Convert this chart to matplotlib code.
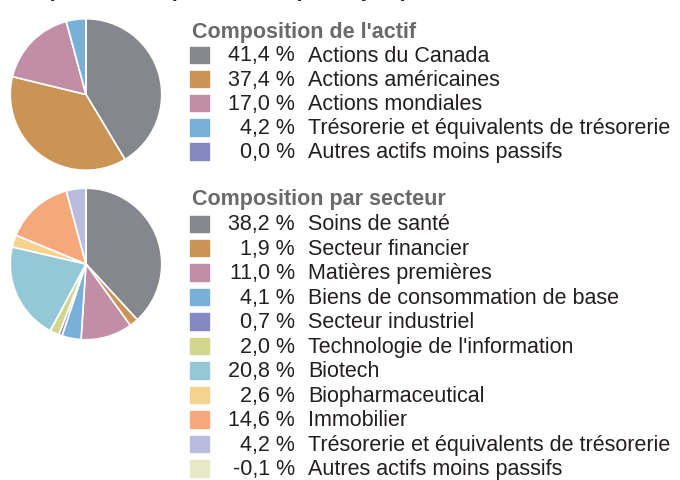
import matplotlib
matplotlib.use("Agg")
import matplotlib.pyplot as plt

plt.rcParams['font.family'] = ['Liberation Sans', 'DejaVu Sans']

# asset mix
actif_titre = "Composition de l'actif"
actif_labels = ["Actions du Canada", "Actions américaines", "Actions mondiales",
                "Trésorerie et équivalents de trésorerie", "Autres actifs moins passifs"]
actif_vals = [41.4, 37.4, 17.0, 4.2, 0.0]
actif_cols = ["#86878c", "#c99456", "#c18ea5", "#79b0d8", "#8489c3"]

# sector mix
secteur_titre = "Composition par secteur"
secteur_labels = ["Soins de santé", "Secteur financier", "Matières premières",
                  "Biens de consommation de base", "Secteur industriel",
                  "Technologie de l'information", "Biotech", "Biopharmaceutical",
                  "Immobilier", "Trésorerie et équivalents de trésorerie",
                  "Autres actifs moins passifs"]
secteur_vals = [38.2, 1.9, 11.0, 4.1, 0.7, 2.0, 20.8, 2.6, 14.6, 4.2, -0.1]
secteur_cols = ["#86878c", "#c99456", "#c18ea5", "#79b0d8", "#8489c3", "#d3d68e",
                "#94c8d6", "#f6d290", "#f5a87c", "#b9bcdf", "#e6e8c6"]

W, H = 680, 481
fig = plt.figure(figsize=(W / 100, H / 100), dpi=100)


def fx(x):
    return x / W


def fy(y):
    return 1 - y / H


def pie_block(cx, cy, r, vals, cols):
    ax = fig.add_axes([fx(cx - r), fy(cy + r), 2 * r / W, 2 * r / H])
    v = [max(0, x) for x in vals]
    ax.pie(v, colors=cols, startangle=90, counterclock=False, radius=1,
           wedgeprops=dict(edgecolor="white", linewidth=1.2))
    ax.set_xlim(-1.01, 1.01)
    ax.set_ylim(-1.01, 1.01)
    ax.set_aspect("equal")
    ax.axis("off")


def legend_block(title, title_y, y0, step, vals, labels, cols):
    fig.text(fx(192), fy(title_y), title, fontsize=15.5, fontweight="bold",
             color="#6a6a6a", va="center", ha="left")
    for i, (v, lab, c) in enumerate(zip(vals, labels, cols)):
        y = y0 + i * step
        fig.patches.append(plt.Rectangle((fx(190), fy(y + 8)), 19 / W, 16.5 / H,
                                         transform=fig.transFigure, color=c))
        fig.text(fx(295), fy(y), f"{v:.1f} %".replace(".", ","), fontsize=15.5,
                 color="#231f20", va="center", ha="right")
        fig.text(fx(308), fy(y), lab, fontsize=15.5, color="#231f20",
                 va="center", ha="left")


# heading cut off at the very top of the image (only descenders show)
fig.text(fx(2), fy(-4), "Composition du portefeuille (au 30 juin)",
         fontsize=15.5, fontweight="bold", color="#231f20", va="baseline", ha="left")

pie_block(86, 95.5, 76.5, actif_vals, actif_cols)
pie_block(86, 265, 76.5, secteur_vals, secteur_cols)

legend_block(actif_titre, 33, 56, 24.2, actif_vals, actif_labels, actif_cols)
legend_block(secteur_titre, 200, 225, 24.45, secteur_vals, secteur_labels, secteur_cols)

fig.savefig("out.png", dpi=100)
